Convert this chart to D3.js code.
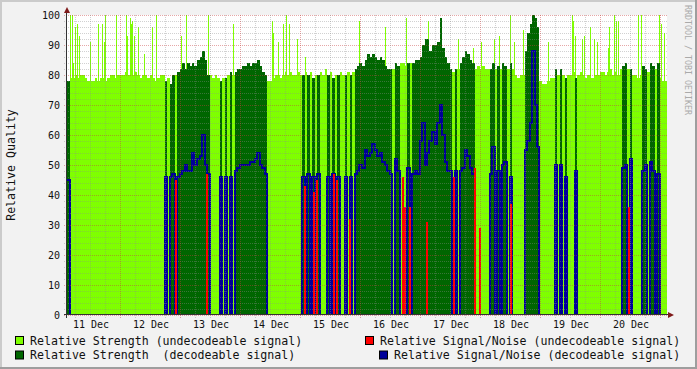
<!DOCTYPE html>
<html>
<head>
<meta charset="utf-8">
<script src="https://cdn.jsdelivr.net/npm/d3@7"></script>
<style>
  body { margin: 0; background: #f2f2f2; }
  svg { display: block; }
</style>
</head>
<body>
<svg width="697" height="369"></svg>
<script>
// hourly samples, first one at 11 Dec 02:48
const strength = [
  78, 79, 79, 80, 79, 80, 80, 79, 78, 78,
  78, 79, 78, 79, 79, 78, 79, 80, 80, 79,
  80, 80, 80, 81, 80, 80, 80, 81, 80, 79,
  80, 80, 79, 80, 79, 78, 79, 80, 80, 78,
  79, 77, 80, 80, 81, 82, 84, 82, 84, 83,
  84, 83, 85, 86, 88, 85, 80, 80, 79, 80,
  79, 78, 79, 79, 80, 81, 80, 81, 82, 82,
  83, 83, 84, 83, 84, 84, 85, 83, 81, 80,
  78, 78, 79, 80, 80, 79, 80, 81, 80, 81,
  80, 80, 81, 80, 80, 81, 80, 81, 79, 80,
  80, 81, 80, 82, 80, 81, 79, 80, 80, 81,
  80, 80, 81, 80, 81, 82, 83, 84, 83, 85,
  87, 86, 87, 86, 85, 86, 85, 83, 82, 82,
  82, 84, 83, 84, 84, 83, 84, 84, 84, 85,
  85, 86, 90, 92, 92, 88, 90, 90, 91, 99,
  89, 86, 84, 82, 81, 82, 82, 84, 86, 88,
  87, 85, 84, 82, 83, 82, 83, 82, 82, 82,
  84, 82, 83, 82, 84, 83, 82, 84, 82, 80,
  79, 80, 80, 88, 94, 97, 100, 99, 96, 78,
  77, 77, 78, 79, 79, 82, 80, 82, 80, 79,
  80, 80, 81, 79, 80, 81, 80, 79, 80, 79,
  79, 80, 80, 81, 81, 80, 81, 82, 80, 81,
  80, 82, 83, 84, 82, 82, 80, 80, 79, 80,
  83, 82, 81, 84, 83, 82, 84, 79, 78, 78
];

// signal/noise when the signal was decodeable, null when it was not
const n = null;
const snrDecoded = [
  45, n, n, n, n, n, n, n, n, n,
  n, n, n, n, n, n, n, n, n, n,
  n, n, n, n, n, n, n, n, n, n,
  n, n, n, n, n, n, n, n, n, 46,
  n, 46, 47, n, 46, 47, 48, 50, 48, 48,
  54, 50, 52, 53, 60, 50, 47, n, n, n,
  n, 46, n, 46, n, 46, n, 48, 49, 50,
  50, 50, 50, 51, 51, 52, 54, 50, 49, 47,
  n, n, n, n, n, n, n, n, n, n,
  n, n, n, n, 46, n, 47, n, 46, n,
  47, n, n, n, 46, n, 47, n, 46, n,
  n, 46, n, 46, n, 47, 48, 50, 49, 55,
  53, 54, 57, 55, 53, 54, 51, 50, 48, 47,
  n, 52, 48, n, n, n, 49, n, 47, 48,
  47, 58, 64, 50, 54, 58, 61, 57, 64, 70,
  60, 51, 48, 48, n, 48, n, 48, 49, 55,
  53, 49, 47, n, n, n, n, n, n, 47,
  56, n, 48, n, 50, 51, n, 46, n, n,
  n, n, n, 55, 58, 64, 88, 70, 56, n,
  n, n, n, n, n, 50, n, 50, n, 46,
  n, n, n, 48, n, n, n, n, n, n,
  n, n, n, n, n, n, n, n, n, n,
  n, n, 49, 50, n, 52, n, n, n, n,
  48, 50, n, 51, 48, n, 47, n, n, n
];

// short strength peaks, [hours after 11 Dec 00:00, value]
const strengthPeaks = [
  [4.1, 100], [4.6, 100], [5.3, 84], [5.9, 96], [6.9, 97], [7.7, 93],
  [12.0, 91], [15.0, 97], [16.7, 97], [17.6, 91], [18.1, 100], [22.5, 100],
  [26.4, 100], [26.9, 93], [28.0, 99], [28.4, 97], [28.9, 98], [29.6, 93],
  [31.2, 96], [33.6, 87], [36.9, 96], [38.3, 100], [48.3, 93], [50.3, 100],
  [59.0, 100], [69.2, 97], [84.8, 98], [85.3, 94], [87.1, 91], [89.1, 97],
  [90.2, 100], [91.6, 97], [94.7, 92], [98.0, 86], [119.5, 98], [130.1, 96],
  [138.4, 99], [147.3, 98], [159.3, 92], [165.1, 89], [168.4, 91], [173.7, 92],
  [175.5, 93], [180.1, 100], [181.7, 91], [185.2, 95], [189.1, 100], [195.3, 91],
  [204.7, 100], [205.3, 98], [206.1, 93], [208.8, 92], [209.7, 93], [212.1, 96],
  [213.7, 92], [214.7, 91], [219.1, 89], [219.5, 96], [221.5, 100], [222.4, 98],
  [223.1, 98], [231.1, 100], [232.4, 100], [239.7, 100], [240.4, 97], [241.7, 94]
];

// signal/noise of undecodeable signal, [hours after 11 Dec 00:00, value]
const snrUndecoded = [
  [46.2, 45], [58.9, 47], [98.0, 43], [101.7, 41], [102.7, 45], [109.6, 47],
  [110.8, 45], [115.9, 32], [137.1, 46], [138.1, 36], [140.0, 36], [146.8, 31],
  [157.7, 46], [166.1, 49], [168.1, 29], [180.4, 37], [227.5, 36]
];

const yTicks = [0, 10, 20, 30, 40, 50, 60, 70, 80, 90, 100];

const legendItems = [
  {label: "Relative Strength (undecodeable signal)", color: "#7fff00", x: 15, row: 0},
  {label: "Relative Signal/Noise (undecodeable signal)", color: "#ff0000", x: 365, row: 0},
  {label: "Relative Strength  (decodeable signal)", color: "#006600", x: 15, row: 1},
  {label: "Relative Signal/Noise (decodeable signal)", color: "#000099", x: 379, row: 1}
];

const svg = d3.select("svg"),
      width = 697,
      height = 369;

const day0 = new Date(2008, 11, 11);
const t0 = new Date(2008, 11, 11, 2, 48);
const tEnd = d3.timeHour.offset(t0, strength.length);
const atHour = h => new Date(+day0 + h * 3600e3);
const sampleTime = i => d3.timeHour.offset(t0, i);

const x = d3.scaleTime().domain([t0, tEnd]).range([67, 667]);
const y = d3.scaleLinear().domain([0, 100]).range([315, 15]);
const px = t => Math.round(x(t));

const font = "'DejaVu Sans Mono', monospace";

// frame
svg.append("rect").attr("width", width).attr("height", height).attr("fill", "#f2f2f2");
svg.append("path").attr("d", `M1,${height} V1 H${width}`).attr("stroke", "#cbcbcb").attr("stroke-width", 2).attr("fill", "none");
svg.append("path").attr("d", `M0,${height - 1} H${width - 1} V0`).attr("stroke", "#9e9e9e").attr("stroke-width", 2).attr("fill", "none");

svg.append("rect").attr("x", 67).attr("y", 15).attr("width", 600).attr("height", 300).attr("fill", "#fff");

svg.append("clipPath").attr("id", "canvas")
  .append("rect").attr("x", 67).attr("y", 0).attr("width", 600).attr("height", 315);

const plot = svg.append("g").attr("clip-path", "url(#canvas)");

const samples = strength.map((s, i) => ({i, s, snr: snrDecoded[i], t0: sampleTime(i), t1: sampleTime(i + 1)}));

// peaks first so decodeable areas cover them
plot.append("g").attr("shape-rendering", "crispEdges").selectAll("rect")
  .data(strengthPeaks)
  .join("rect")
    .attr("x", d => px(atHour(d[0])))
    .attr("width", 1)
    .attr("y", d => y(d[1]))
    .attr("height", d => y(0) - y(d[1]))
    .attr("fill", "#7fff00");

plot.append("g").attr("shape-rendering", "crispEdges").selectAll("rect")
  .data(samples)
  .join("rect")
    .attr("x", d => px(d.t0))
    .attr("width", d => px(d.t1) - px(d.t0))
    .attr("y", d => y(d.s))
    .attr("height", d => y(0) - y(d.s))
    .attr("fill", d => d.snr == null ? "#7fff00" : "#006600");

// grid
const gridG = svg.append("g").attr("shape-rendering", "crispEdges");
d3.range(0, 101, 2).forEach(v => {
  const major = v % 10 === 0;
  gridG.append("line")
    .attr("x1", 64).attr("x2", 667)
    .attr("y1", Math.round(y(v)) + 0.5).attr("y2", Math.round(y(v)) + 0.5)
    .attr("stroke", major ? "rgba(200,60,60,0.45)" : "rgba(140,140,140,0.4)")
    .attr("stroke-dasharray", "1,1");
});
d3.timeHour.every(6).range(t0, tEnd).forEach(t => {
  const major = t.getHours() === 0;
  gridG.append("line")
    .attr("x1", px(t) + 0.5).attr("x2", px(t) + 0.5)
    .attr("y1", 15).attr("y2", 318)
    .attr("stroke", major ? "rgba(200,60,60,0.45)" : "rgba(140,140,140,0.4)")
    .attr("stroke-dasharray", "1,1");
});

// signal/noise lines
const snLine = d3.line()
  .x(d => d[0])
  .y(d => y(d[1]))
  .curve(d3.curveStepAfter);
const snPts = samples.map(d => [px(d.t0), d.snr == null ? 0 : d.snr]);
snPts.push([px(tEnd), 0]);
plot.append("path")
  .attr("d", snLine(snPts))
  .attr("fill", "none")
  .attr("stroke", "#000099")
  .attr("stroke-width", 2);

plot.append("g").selectAll("line")
  .data(snrUndecoded)
  .join("line")
    .attr("x1", d => px(atHour(d[0]))).attr("x2", d => px(atHour(d[0])))
    .attr("y1", y(0)).attr("y2", d => y(d[1]))
    .attr("stroke", "#ff0000")
    .attr("stroke-width", 2);

// axes
svg.append("line").attr("x1", 64).attr("x2", 669).attr("y1", 314.5).attr("y2", 314.5).attr("stroke", "#333");
svg.append("line").attr("x1", 66.5).attr("x2", 66.5).attr("y1", 318).attr("y2", 12).attr("stroke", "#333");
svg.append("path").attr("d", "M64,13 L70,13 L67,7 Z").attr("fill", "#7f1a1a");
svg.append("path").attr("d", "M668,312 L668,318 L674,315 Z").attr("fill", "#7f1a1a");

svg.append("g").selectAll("text")
  .data(yTicks)
  .join("text")
    .attr("x", 60)
    .attr("y", d => y(d) + 3.5)
    .attr("text-anchor", "end")
    .attr("font-family", font)
    .attr("font-size", 10)
    .attr("fill", "#111")
    .text(d => d);

const fmt = d3.timeFormat("%d Dec");
svg.append("g").selectAll("text")
  .data(d3.timeDay.range(d3.timeDay.floor(t0), tEnd).map(d => d3.timeHour.offset(d, 12)).filter(d => d > t0 && d < tEnd))
  .join("text")
    .attr("x", d => x(d) + 1)
    .attr("y", 328)
    .attr("text-anchor", "middle")
    .attr("font-family", font)
    .attr("font-size", 10)
    .attr("fill", "#111")
    .text(d => fmt(d));

svg.append("text")
  .attr("transform", "translate(15,165) rotate(-90)")
  .attr("text-anchor", "middle")
  .attr("font-family", font)
  .attr("font-size", 11.6)
  .attr("fill", "#111")
  .text("Relative Quality");

svg.append("text")
  .attr("transform", "translate(685,5) rotate(90)")
  .attr("font-family", font)
  .attr("font-size", 8.3)
  .attr("fill", "#aaa")
  .text("RRDTOOL / TOBI OETIKER");

// legend
const leg = svg.append("g").selectAll("g")
  .data(legendItems)
  .join("g")
    .attr("transform", d => `translate(${d.x},${336 + d.row * 14.5})`);
leg.append("rect")
  .attr("x", 0.5).attr("y", 0.5).attr("width", 8).attr("height", 8)
  .attr("fill", d => d.color)
  .attr("stroke", "#000");
leg.append("text")
  .attr("x", 15)
  .attr("y", 8.5)
  .attr("font-family", font)
  .attr("font-size", 11.6)
  .attr("fill", "#111")
  .attr("xml:space", "preserve")
  .style("white-space", "pre")
  .text(d => d.label);
</script>
</body>
</html>
